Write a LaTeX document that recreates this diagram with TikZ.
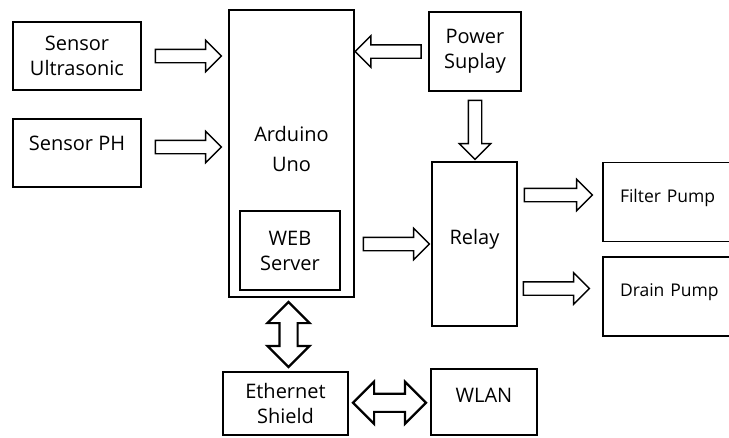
\documentclass[tikz,border=0pt]{standalone}
\usepackage{fontspec}
\setmainfont{Open Sans}
\usetikzlibrary{shapes.arrows,calc}
\begin{document}
\begin{tikzpicture}[x=1pt,y=-1pt,
    blk/.style={draw,line width=1.8pt,rectangle,align=center,inner sep=0pt,
        font=\fontsize{20}{25}\selectfont},
    lift/.style={text height=14pt,text depth=#1},
    sarr/.style={single arrow,draw,line width=1.4pt,inner xsep=0pt,inner ysep=6pt,
        single arrow head extend=9pt,minimum height=#1},
    darr/.style={double arrow,draw,line width=2.2pt,inner xsep=0pt,inner ysep=8pt,
        double arrow head extend=12pt,minimum height=#1}]
    \clip (0,0) rectangle (729,437);
    \node[blk,minimum width=128,minimum height=68] (su) at (77,56) {Sensor\\Ultrasonic};
    \node[blk,lift=20pt,minimum width=128,minimum height=68] (ph) at (77,153) {Sensor PH};
    \node[blk,minimum width=125,minimum height=287] (ard) at (291.5,153.5) {Arduino\\[5pt]Uno\\[-16pt]};
    \node[blk,minimum width=100,minimum height=79] (web) at (290,250.5) {WEB\\Server};
    \node[blk,minimum width=92,minimum height=79] (pw) at (475,51.5) {Power\\Suplay};
    \node[blk,lift=14pt,minimum width=85,minimum height=164] (rl) at (474.5,244) {Relay};
    \node[blk,lift=14pt,minimum height=79,font=\fontsize{17.5}{22}\selectfont,
        text width=130,align=left,inner xsep=17pt] (fp) at (685,202) {Filter Pump};
    \node[blk,lift=14pt,minimum height=79,font=\fontsize{17.5}{22}\selectfont,
        text width=130,align=left,inner xsep=17pt] (dp) at (685,296.5) {Drain Pump};
    \node[blk,minimum width=125,minimum height=63] (eth) at (285.5,403.5) {Ethernet\\Shield};
    \node[blk,lift=14pt,minimum width=106,minimum height=66] (wl) at (484,402) {WLAN};
    \node[sarr=66] (a1) at ($(su.east)!.5!(ard.west |- su.east)$) {};
    \node[sarr=66] (a2) at ($(ph.east)!.5!(ard.west |- ph.east)+(0,-6)$) {};
    \node[sarr=66,shape border rotate=180] (a3) at ($(pw.west)!.5!(ard.east |- pw.west)$) {};
    \node[sarr=59,shape border rotate=270,inner xsep=6pt,inner ysep=0pt]
        (a4) at ($(pw.south)!.5!(rl.north -| pw.south)$) {};
    \node[sarr=66] (a5) at ($(ard.east |- rl)!.5!(rl.west)$) {};
    \node[sarr=68] (a6) at ($(rl.east |- fp)!.5!(fp.west)+(-5,-7)$) {};
    \node[sarr=66] (a7) at ($(rl.east |- dp)!.5!(dp.west)+(-7,-8)$) {};
    \node[darr=65,shape border rotate=90,inner xsep=8pt,inner ysep=0pt]
        (d1) at ($(ard.south)!.5!(eth.north)$) {};
    \node[darr=73] (d2) at ($(eth.east)!.5!(wl.west)$) {};
\end{tikzpicture}
\end{document}
